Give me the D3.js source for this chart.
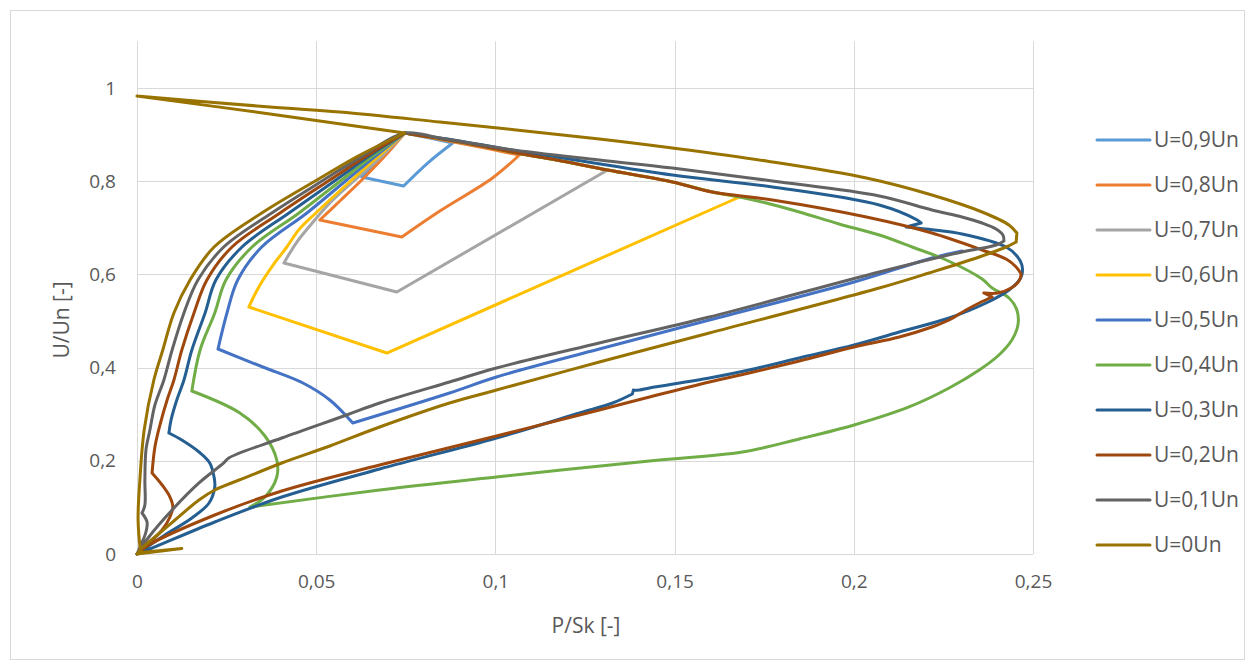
<!DOCTYPE html>
<html>
<head>
<meta charset="utf-8">
<script src="https://cdn.jsdelivr.net/npm/d3@7"></script>
<style>
  body { margin: 0; background: #ffffff; }
  text { font-family: "Open Sans", "Noto Sans", sans-serif; fill: #595959; }
</style>
</head>
<body>
<svg id="chart" width="1255" height="668"></svg>
<script>
// Axis ticks
const xTicks = [0, 0.05, 0.1, 0.15, 0.2, 0.25];
const yTicks = [0, 0.2, 0.4, 0.6, 0.8, 1];

// Series labels and colours (legend order)
const seriesNames = ["U=0,9Un", "U=0,8Un", "U=0,7Un", "U=0,6Un", "U=0,5Un",
                     "U=0,4Un", "U=0,3Un", "U=0,2Un", "U=0,1Un", "U=0Un"];
const seriesColors = ["#5B9BD5", "#ED7D31", "#A5A5A5", "#FFC000", "#4472C4",
                      "#70AD47", "#255E91", "#9E480E", "#636363", "#997300"];

// Each series: [P/Sk, U/Un] points in drawing order
const u09 = [[0.0747,0.9034],[0.0705,0.8734],[0.0666,0.8412],[0.0627,0.809],[0.0744,0.7897],
  [0.0811,0.839],[0.0881,0.882],[0.0817,0.8927],[0.0747,0.9034]];

const u08 = [[0.0747,0.9034],[0.0694,0.856],[0.063,0.8047],[0.0566,0.7575],[0.051,0.7167],
  [0.0739,0.6803],[0.0845,0.736],[0.0992,0.8069],[0.1067,0.8562],[0.0928,0.8777],[0.0747,0.9034]];

const u07 = [[0.0747,0.9034],[0.0686,0.856],[0.0608,0.8026],[0.0538,0.7532],[0.0482,0.7039],
  [0.0446,0.6695],[0.041,0.6245],[0.0725,0.5622],[0.1313,0.824],[0.1171,0.8455],
  [0.1059,0.8605],[0.09,0.8841],[0.0747,0.9034]];

const u06 = [[0.0747,0.9034],[0.0677,0.856],[0.0599,0.8026],[0.0499,0.7318],[0.0451,0.6953],
  [0.0418,0.6588],[0.0384,0.6245],[0.034,0.573],[0.0312,0.53],[0.0697,0.4313],
  [0.1681,0.7661],[0.1605,0.7768],[0.1494,0.7983],[0.1313,0.824],[0.1171,0.8455],
  [0.1059,0.8605],[0.09,0.8841],[0.0747,0.9034]];

const u05 = [[0.0747,0.9034],[0.0669,0.856],[0.0585,0.8026],[0.0474,0.7318],[0.0348,0.6588],
  [0.0281,0.588],[0.0251,0.5172],[0.0226,0.4399],[0.0351,0.4013],[0.0463,0.367],
  [0.0538,0.3305],[0.0602,0.2811],[0.0872,0.3455],[0.1003,0.3798],[0.129,0.4399],
  [0.1597,0.5021],[0.2001,0.5837],[0.2218,0.6352],[0.2302,0.6502]];

const u04 = [[0.0747,0.9034],[0.0661,0.856],[0.0571,0.8026],[0.0452,0.7318],[0.0321,0.6588],
  [0.0248,0.588],[0.0217,0.5172],[0.0176,0.4378],[0.0153,0.3498],[0.0287,0.3026],
  [0.0357,0.2532],[0.039,0.2017],[0.039,0.1652],[0.0357,0.1223],[0.0315,0.1009],
  [0.0677,0.1373],[0.1003,0.1652],[0.143,0.1996],[0.1689,0.2189],[0.1848,0.2468],
  [0.2001,0.2768],[0.2154,0.3155],[0.2266,0.3562],[0.235,0.3948],[0.2405,0.427],
  [0.2441,0.4592],[0.2458,0.4914],[0.2455,0.5236],[0.2433,0.5494],[0.2386,0.5708],
  [0.2358,0.5901],[0.2258,0.6309],[0.2163,0.6588],[0.2071,0.6845],[0.1959,0.7082],
  [0.1848,0.7339],[0.1756,0.7532],[0.1681,0.7661],[0.1605,0.7768],[0.1494,0.7983],
  [0.1313,0.824],[0.1171,0.8455],[0.1059,0.8605],[0.09,0.8841],[0.0747,0.9034]];

const u03 = [[0,0],[0.0078,0.0408],[0.0153,0.0773],[0.0201,0.1094],[0.0217,0.1438],
  [0.0215,0.1652],[0.0203,0.1953],[0.0173,0.2189],[0.0125,0.2446],[0.0089,0.2597],
  [0.0095,0.2876],[0.0111,0.3305],[0.0131,0.3734],[0.0153,0.4378],[0.019,0.5172],
  [0.022,0.588],[0.0293,0.6588],[0.0424,0.7318],[0.0555,0.8026],[0.0652,0.856],
  [0.0747,0.9034],[0.09,0.8863],[0.1059,0.8648],[0.1171,0.8519],[0.1494,0.8133],
  [0.1773,0.7876],[0.2071,0.7489],[0.2177,0.7167],[0.2188,0.7103],[0.2146,0.7017],
  [0.2224,0.6953],[0.2302,0.6867],[0.2425,0.6588],[0.2455,0.6395],[0.2469,0.6202],
  [0.2467,0.5944],[0.2433,0.5665],[0.2369,0.5386],[0.2266,0.5064],[0.2127,0.4764],
  [0.2001,0.4485],[0.1848,0.4206],[0.1708,0.3948],[0.1597,0.3777],[0.143,0.3562],
  [0.1402,0.3519],[0.1385,0.3519],[0.1382,0.3433],[0.1327,0.324],[0.1235,0.3026],
  [0.1003,0.2489],[0.0677,0.1824],[0.0404,0.1223],[0.0217,0.0687],
  [0.0036,0.0107],[0,0]];

const u02 = [[0,0],[0.0022,0.015],[0.007,0.0515],[0.0092,0.0794],[0.01,0.1009],
  [0.0092,0.1223],[0.007,0.1481],[0.0042,0.1738],[0.005,0.2296],[0.0064,0.2768],
  [0.0084,0.3305],[0.0103,0.3734],[0.0125,0.4378],[0.0159,0.5172],[0.0195,0.588],
  [0.0265,0.6588],[0.0399,0.7318],[0.0538,0.8026],[0.0644,0.856],[0.0747,0.9034],
  [0.09,0.8841],[0.1059,0.8605],[0.1171,0.8455],[0.1313,0.824],[0.1494,0.7983],
  [0.1605,0.7768],[0.1773,0.7597],[0.2035,0.7232],[0.2218,0.6888],[0.2358,0.6524],
  [0.2425,0.633],[0.2453,0.6159],[0.2467,0.6009],[0.2461,0.5858],[0.2439,0.5708],
  [0.2402,0.5601],[0.2363,0.5601],[0.2386,0.5515],[0.235,0.5386],[0.2313,0.5236],
  [0.2266,0.5021],[0.2218,0.4871],[0.2127,0.4657],[0.2001,0.4442],[0.1848,0.4142],
  [0.1708,0.3884],[0.1597,0.3691],[0.143,0.3369],[0.129,0.309],[0.1003,0.2532],
  [0.0677,0.191],[0.0404,0.1352],[0.0217,0.0837],[0.0033,0.0193],[0,0]];

const u01 = [[0,0],[0.0011,0.0193],[0.0025,0.0472],[0.0028,0.0687],[0.0014,0.088],
  [0.0022,0.1052],[0.0022,0.1588],[0.0025,0.2232],[0.0036,0.2661],[0.005,0.3197],
  [0.0075,0.3734],[0.0098,0.4378],[0.0131,0.5172],[0.017,0.588],[0.0242,0.6588],
  [0.0376,0.7318],[0.0521,0.8026],[0.0633,0.856],[0.0747,0.9034],[0.0845,0.8927],
  [0.1031,0.869],[0.129,0.8455],[0.1494,0.8283],[0.1773,0.8004],[0.2071,0.7682],
  [0.2218,0.7382],[0.2302,0.7232],[0.2358,0.7103],[0.2397,0.6974],[0.2416,0.6845],
  [0.2419,0.6717],[0.2397,0.6631],[0.2302,0.6481],[0.2071,0.6052],
  [0.1597,0.5086],[0.129,0.4528],[0.1003,0.3991],[0.0872,0.3691],[0.0677,0.324],
  [0.0585,0.2983],[0.0404,0.2489],[0.0256,0.206],[0.0242,0.1953],[0.0173,0.1524],
  [0.0098,0.0944],[0.0033,0.0365],[0,0]];

const u00 = [[0,0.9828],[0.0371,0.9592],[0.0566,0.9485],[0.0845,0.927],[0.129,0.8906],
  [0.1494,0.8712],[0.1756,0.8433],[0.2035,0.8069],[0.2218,0.7704],[0.2358,0.7339],
  [0.2433,0.706],[0.2455,0.6888],[0.2453,0.6695],[0.2425,0.6588],[0.235,0.6373],
  [0.221,0.603],[0.2071,0.5708],[0.1597,0.4742],[0.129,0.412],[0.1003,0.3519],
  [0.0872,0.324],[0.0677,0.2725],[0.0538,0.2318],[0.0404,0.1953],[0.0293,0.161],
  [0.0217,0.1373],[0.0173,0.1159],[0.0106,0.073],[0.005,0.0365],[0.0014,0.0129],[0,0],
  [0.0125,0.012],[0.001,0.003],[0.0003,0.073],[0.0008,0.1588],[0.002,0.2661],
  [0.0047,0.3734],[0.0072,0.4378],[0.0103,0.5172],[0.0148,0.588],[0.0215,0.6588],
  [0.0348,0.7318],[0.0502,0.8026],[0.0622,0.856],[0.0747,0.9034],[0.0371,0.9442],[0,0.9828]];

const seriesData = [u09, u08, u07, u06, u05, u04, u03, u02, u01, u00];

const svg = d3.select("#chart");
const W = 1255, H = 668;

// chart area frame
svg.append("rect").attr("x", 10.5).attr("y", 10.5).attr("width", W - 21).attr("height", H - 19)
  .attr("fill", "#ffffff").attr("stroke", "#D9D9D9").attr("stroke-width", 1);

const x = d3.scaleLinear().domain([0, 0.25]).range([137, 1033]);
const y = d3.scaleLinear().domain([0, 1.1]).range([554, 41.4]);
const fmt = d => String(d).replace(".", ",");

// gridlines
const grid = svg.append("g").attr("stroke", "#D9D9D9").attr("stroke-width", 1);
grid.selectAll("line.h").data(yTicks).join("line")
  .attr("x1", x(0)).attr("x2", x(0.25))
  .attr("y1", d => Math.round(y(d)) + 0.5).attr("y2", d => Math.round(y(d)) + 0.5);
grid.selectAll("line.v").data(xTicks).join("line")
  .attr("y1", y(1.1)).attr("y2", y(0))
  .attr("x1", d => Math.round(x(d)) + 0.5).attr("x2", d => Math.round(x(d)) + 0.5);

// axes (labels only)
const xAxis = svg.append("g").attr("transform", `translate(0,${y(0)})`)
  .call(d3.axisBottom(x).tickValues(xTicks).tickFormat(fmt).tickSize(0).tickPadding(21));
const yAxis = svg.append("g").attr("transform", `translate(${x(0)},0)`)
  .call(d3.axisLeft(y).tickValues(yTicks).tickFormat(fmt).tickSize(0).tickPadding(21));
[xAxis, yAxis].forEach(a => {
  a.select(".domain").remove();
  a.selectAll("text").attr("font-family", "Open Sans").attr("font-size", 19).attr("fill", "#595959");
});

// axis titles
svg.append("text").attr("x", 586).attr("y", 633).attr("text-anchor", "middle")
  .attr("font-size", 21).text("P/Sk [-]");
svg.append("text").attr("transform", "translate(69,320) rotate(-90)").attr("text-anchor", "middle")
  .attr("font-size", 21).text("U/Un [-]");

// series lines: smooth between points, but keep sharp turns as corners
const smooth = d3.line().x(d => x(d[0])).y(d => y(d[1])).curve(d3.curveCatmullRom.alpha(0.5));
function pathOf(pts) {
  const P = pts.map(d => [x(d[0]), y(d[1])]);
  const breaks = [0];
  for (let i = 1; i < P.length - 1; i++) {
    const a1 = Math.atan2(P[i][1] - P[i - 1][1], P[i][0] - P[i - 1][0]);
    const a2 = Math.atan2(P[i + 1][1] - P[i][1], P[i + 1][0] - P[i][0]);
    let t = Math.abs(a2 - a1);
    if (t > Math.PI) t = 2 * Math.PI - t;
    if (t > 0.7) breaks.push(i);
  }
  breaks.push(P.length - 1);
  let d = "";
  for (let k = 0; k < breaks.length - 1; k++) d += smooth(pts.slice(breaks[k], breaks[k + 1] + 1));
  return d;
}

svg.append("g").selectAll("path").data(seriesData).join("path")
  .attr("d", pathOf)
  .attr("fill", "none")
  .attr("stroke", (d, i) => seriesColors[i])
  .attr("stroke-width", 3)
  .attr("stroke-linejoin", "round")
  .attr("stroke-linecap", "round");

// legend
const legend = svg.append("g").selectAll("g").data(seriesNames).join("g")
  .attr("transform", (d, i) => `translate(1097,${140 + i * 45})`);
legend.append("line").attr("x1", 0).attr("x2", 53).attr("y1", 0).attr("y2", 0)
  .attr("stroke", (d, i) => seriesColors[i]).attr("stroke-width", 3).attr("stroke-linecap", "round");
legend.append("text").attr("x", 57).attr("y", 0).attr("dy", "0.35em")
  .attr("font-size", 21).text(d => d);
</script>
</body>
</html>
